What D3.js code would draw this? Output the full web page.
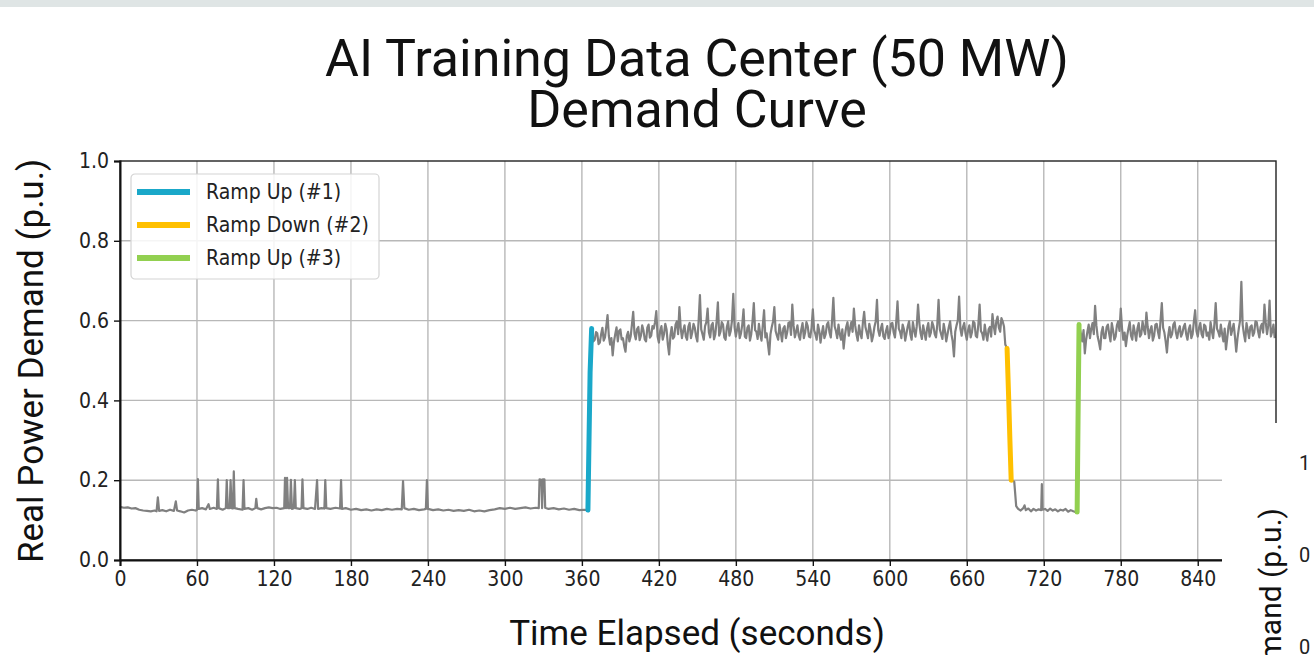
<!DOCTYPE html>
<html>
<head>
<meta charset="utf-8">
<script src="https://cdn.jsdelivr.net/npm/d3@7"></script>
<style>
  body { margin: 0; background: #fff; }
  svg { display: block; }
  .tick text { font-family: "Liberation Sans Narrow", "DejaVu Sans Condensed", Roboto, sans-serif; }
</style>
</head>
<body>
<svg id="chart" width="1314" height="655"></svg>
<script>
// tick values
const xTicks = [0, 60, 120, 180, 240, 300, 360, 420, 480, 540, 600, 660, 720, 780, 840];
const yTicks = [0, 0.2, 0.4, 0.6, 0.8, 1.0];

const legendLabels = ["Ramp Up (#1)", "Ramp Down (#2)", "Ramp Up (#3)"];
const rampColors = ["#1aa8c9", "#ffc000", "#92d050"];

// idle period before the first ramp, [seconds, p.u.]
const idleA = [
  [0,0.133],[3,0.131],[6,0.132],[9,0.129],[12,0.13],[15,0.126],[18,0.124],[21,0.123],[24,0.122],[27,0.124],
  [28.5,0.122],[29.5,0.157],[30.5,0.123],[33,0.125],[36,0.122],[39,0.126],[42,0.123],[43.5,0.147],[44.5,0.124],
  [47,0.122],[50,0.119],[53,0.124],[56,0.126],[59,0.124],[60,0.126],[60.7,0.203],[61.4,0.128],[64,0.13],
  [67,0.127],[69,0.14],[70,0.128],[73,0.131],[75.5,0.128],[76.3,0.202],[77,0.13],[80,0.126],[82.5,0.13],
  [83.2,0.2],[84,0.13],[85.5,0.13],[86.2,0.2],[87,0.13],[88,0.129],[88.7,0.222],[89.4,0.13],[92,0.128],
  [95.5,0.126],[96.3,0.2],[97,0.128],[100,0.13],[103,0.126],[105.5,0.13],[106.2,0.153],[107,0.13],[110,0.127],
  [113,0.13],[116,0.132],[119,0.13],[122,0.131],[125,0.128],[128,0.13],[128.6,0.206],[129.4,0.13],[130.2,0.206],
  [131,0.13],[132.5,0.13],[133.2,0.201],[134,0.128],[135.5,0.13],[136.3,0.2],[137,0.13],[140,0.128],[141.5,0.13],
  [142.2,0.202],[143,0.13],[146,0.128],[149,0.131],[152,0.128],[153.6,0.2],[154.4,0.128],[157,0.13],[159.3,0.129],
  [160,0.2],[160.8,0.13],[164,0.128],[168,0.131],[171.5,0.129],[172.3,0.2],[173,0.128],[176,0.13],[180,0.126],
  [184,0.128],[188,0.125],[192,0.127],[196,0.124],[200,0.127],[204,0.125],[208,0.128],[212,0.126],[216,0.128],
  [219.6,0.127],[220.6,0.198],[221.6,0.13],[225,0.126],[229,0.128],[233,0.125],[237,0.127],[238.4,0.128],
  [239.2,0.2],[240,0.128],[244,0.125],[248,0.127],[252,0.124],[256,0.126],[260,0.123],[264,0.125],[268,0.123],
  [272,0.126],[276,0.122],[280,0.124],[284,0.122],[288,0.125],[292,0.127],[296,0.13],[300,0.128],[304,0.131],
  [308,0.128],[312,0.13],[316,0.132],[320,0.129],[324,0.131],[326.4,0.13],[327,0.202],[328.5,0.201],[329,0.13],
  [329.6,0.202],[330.8,0.202],[331.4,0.131],[334,0.128],[338,0.13],[342,0.127],[346,0.129],[350,0.126],
  [354,0.128],[358,0.125],[362,0.126],[364.7,0.125]
];

const rampUp1 = [[364.7,0.125],[365.6,0.31],[366.4,0.47],[367.6,0.58]];

// training load, one value per second starting at 368 s
const trainA = [
  0.575,0.548,0.552,0.571,0.568,0.541,0.545,0.566,0.582,0.550,0.558,0.585,0.614,0.562,0.540,0.556,0.513,0.547,0.566,0.583,
  0.548,0.574,0.578,0.553,0.556,0.536,0.522,0.561,0.572,0.548,0.560,0.590,0.622,0.567,0.553,0.579,0.584,0.551,0.562,0.588,
  0.575,0.553,0.548,0.582,0.590,0.557,0.562,0.586,0.580,0.596,0.624,0.560,0.545,0.574,0.586,0.552,0.566,0.592,0.578,0.540,
  0.515,0.562,0.584,0.555,0.560,0.590,0.598,0.566,0.634,0.582,0.556,0.575,0.588,0.560,0.552,0.585,0.594,0.556,0.570,0.592,
  0.582,0.560,0.548,0.600,0.664,0.578,0.566,0.552,0.586,0.596,0.630,0.570,0.558,0.588,0.594,0.553,0.566,0.598,0.646,0.562,
  0.572,0.596,0.590,0.558,0.552,0.584,0.598,0.562,0.574,0.600,0.667,0.584,0.560,0.578,0.594,0.556,0.568,0.590,0.628,0.560,
  0.556,0.582,0.588,0.550,0.566,0.598,0.644,0.576,0.572,0.554,0.592,0.566,0.550,0.589,0.626,0.558,0.568,0.542,0.515,0.566,
  0.584,0.598,0.634,0.574,0.562,0.552,0.590,0.570,0.548,0.580,0.586,0.556,0.570,0.594,0.596,0.564,0.640,0.588,0.558,0.572,
  0.588,0.562,0.552,0.578,0.594,0.556,0.570,0.596,0.586,0.560,0.558,0.582,0.628,0.576,0.566,0.552,0.590,0.574,0.545,0.568,
  0.586,0.556,0.566,0.590,0.596,0.570,0.558,0.600,0.657,0.586,0.574,0.556,0.590,0.566,0.552,0.578,0.530,0.562,0.584,0.596,
  0.562,0.580,0.596,0.572,0.630,0.588,0.566,0.550,0.588,0.568,0.556,0.594,0.622,0.584,0.570,0.556,0.592,0.576,0.548,0.562,
  0.584,0.598,0.652,0.576,0.562,0.580,0.592,0.560,0.554,0.574,0.586,0.556,0.568,0.592,0.594,0.570,0.558,0.596,0.648,0.580,
  0.572,0.556,0.590,0.578,0.550,0.568,0.586,0.598,0.566,0.552,0.596,0.576,0.560,0.586,0.640,0.594,0.568,0.554,0.588,0.570,
  0.552,0.580,0.594,0.560,0.570,0.596,0.586,0.566,0.558,0.590,0.652,0.578,0.566,0.554,0.592,0.574,0.548,0.566,0.584,0.598,
  0.566,0.548,0.510,0.572,0.588,0.600,0.660,0.580,0.562,0.584,0.594,0.568,0.552,0.576,0.588,0.558,0.570,0.598,0.594,0.562,
  0.558,0.590,0.640,0.574,0.568,0.552,0.590,0.566,0.550,0.578,0.584,0.560,0.616,0.586,0.566,0.598,0.610,0.582,0.572,0.606,
  0.598,0.585,0.540
];
const trainAStart = 368;

const rampDown2 = [[691.4,0.53],[692.6,0.41],[693.6,0.30],[694.6,0.20]];

const idleB = [
  [694.6,0.2],[697,0.196],[698.5,0.135],[700,0.128],[702,0.124],[704,0.13],[705,0.137],[706,0.125],[708,0.129],
  [710,0.122],[712,0.128],[714,0.124],[716,0.127],[718,0.125],[718.5,0.19],[719,0.126],[721,0.128],[723,0.123],
  [725,0.129],[727,0.124],[729,0.127],[731,0.122],[733,0.126],[735,0.124],[737,0.128],[739,0.121],[741,0.125],
  [743,0.122],[745,0.12],[746,0.12]
];

const rampUp3 = [[746,0.12],[746.7,0.35],[747.5,0.59]];

// training load, one value per second starting at 748 s
const trainB = [
  0.582,0.566,0.548,0.576,0.518,0.552,0.572,0.590,0.556,0.580,0.594,0.566,0.637,0.588,0.560,0.546,0.528,0.570,0.584,0.556,
  0.556,0.584,0.590,0.566,0.548,0.594,0.576,0.552,0.560,0.588,0.598,0.574,0.630,0.580,0.552,0.570,0.536,0.562,0.580,0.596,
  0.562,0.552,0.588,0.570,0.550,0.580,0.594,0.560,0.566,0.598,0.578,0.566,0.620,0.584,0.556,0.576,0.586,0.550,0.562,0.590,
  0.592,0.572,0.556,0.600,0.644,0.582,0.570,0.548,0.520,0.562,0.584,0.558,0.566,0.590,0.596,0.570,0.556,0.576,0.586,0.560,
  0.568,0.584,0.592,0.566,0.552,0.578,0.588,0.556,0.566,0.598,0.626,0.574,0.560,0.582,0.594,0.566,0.558,0.590,0.586,0.562,
  0.570,0.552,0.596,0.574,0.556,0.592,0.644,0.580,0.572,0.560,0.590,0.566,0.548,0.580,0.528,0.556,0.586,0.598,0.564,0.578,
  0.592,0.560,0.522,0.556,0.580,0.600,0.697,0.590,0.566,0.548,0.594,0.576,0.556,0.584,0.588,0.562,0.570,0.598,0.596,0.574,
  0.558,0.584,0.592,0.570,0.640,0.596,0.566,0.588,0.650,0.560,0.572,0.590,0.556
];
const trainBStart = 748;

const svg = d3.select("#chart");
const W = 1314, H = 655;
const plot = { left: 120, right: 1276, top: 161, bottom: 560 };

const x = d3.scaleLinear().domain([0, 901]).range([plot.left, plot.right]);
const y = d3.scaleLinear().domain([0, 1]).range([plot.bottom, plot.top]);

// top strip of the screenshot
svg.append("rect").attr("x", 0).attr("y", 0).attr("width", W).attr("height", 7).attr("fill", "#dfe5e5");

// title
const title = svg.append("text")
    .attr("text-anchor", "middle")
    .style("font-family", "Roboto, sans-serif")
    .style("font-size", "52px")
    .attr("fill", "#111");
title.append("tspan").attr("x", 697).attr("y", 76).text("AI Training Data Center (50 MW)");
title.append("tspan").attr("x", 697).attr("y", 127).text("Demand Curve");

// grid
const grid = svg.append("g").attr("stroke", "#b8b8b8").attr("stroke-width", 1.4);
grid.selectAll("line.gx").data(xTicks.filter(d => d > 0)).enter().append("line")
    .attr("x1", d => x(d)).attr("x2", d => x(d))
    .attr("y1", plot.top).attr("y2", plot.bottom);
grid.selectAll("line.gy").data(yTicks.filter(d => d > 0 && d < 1)).enter().append("line")
    .attr("x1", plot.left).attr("x2", plot.right)
    .attr("y1", d => y(d)).attr("y2", d => y(d));

// gray demand trace
const series = [].concat(
    idleA,
    rampUp1,
    trainA.map((v, i) => [trainAStart + i, v]),
    rampDown2,
    idleB,
    rampUp3,
    trainB.map((v, i) => [trainBStart + i, v])
);

const line = d3.line().x(d => x(d[0])).y(d => y(d[1]));

svg.append("path")
    .datum(series)
    .attr("d", line)
    .attr("fill", "none")
    .attr("stroke", "#808080")
    .attr("stroke-width", 2.2)
    .attr("stroke-linejoin", "round");

// ramps
[rampUp1, rampDown2, rampUp3].forEach((r, i) => {
    svg.append("path")
        .datum(r)
        .attr("d", line)
        .attr("fill", "none")
        .attr("stroke", rampColors[i])
        .attr("stroke-width", 5)
        .attr("stroke-linecap", "round")
        .attr("stroke-linejoin", "round");
});

// frame
svg.append("rect")
    .attr("x", plot.left).attr("y", plot.top)
    .attr("width", plot.right - plot.left).attr("height", plot.bottom - plot.top)
    .attr("fill", "none").attr("stroke", "#222").attr("stroke-width", 1.4);

// axes
const xAxis = svg.append("g")
    .attr("transform", `translate(0,${plot.bottom})`)
    .call(d3.axisBottom(x).tickValues(xTicks).tickSize(6).tickPadding(5).tickFormat(d3.format("d")));
const yAxis = svg.append("g")
    .attr("transform", `translate(${plot.left},0)`)
    .call(d3.axisLeft(y).tickValues(yTicks).tickSize(6).tickPadding(5).tickFormat(d3.format(".1f")));
[xAxis, yAxis].forEach(a => {
    a.select(".domain").attr("stroke", "#111").attr("stroke-width", 2);
    a.selectAll(".tick line").attr("stroke", "#111").attr("stroke-width", 1.4);
    a.selectAll(".tick text").attr("fill", "#222").style("font-size", "21px");
});

// axis titles
svg.append("text")
    .attr("x", 697).attr("y", 645)
    .attr("text-anchor", "middle")
    .style("font-family", "Roboto, sans-serif").style("font-size", "35px")
    .attr("fill", "#111")
    .text("Time Elapsed (seconds)");
svg.append("text")
    .attr("transform", "translate(43,361) rotate(-90)")
    .attr("text-anchor", "middle")
    .style("font-family", "Roboto, sans-serif").style("font-size", "35px")
    .attr("fill", "#111")
    .text("Real Power Demand (p.u.)");

// legend
const legend = svg.append("g").attr("transform", "translate(131,174)");
legend.append("rect")
    .attr("width", 248).attr("height", 105).attr("rx", 4)
    .attr("fill", "rgba(255,255,255,0.85)").attr("stroke", "#d4d4d4").attr("stroke-width", 1.2);
const legendItems = legend.selectAll("g.item").data(legendLabels).enter().append("g")
    .attr("transform", (d, i) => `translate(0,${18 + i * 33})`);
legendItems.append("line")
    .attr("x1", 6).attr("x2", 59)
    .attr("stroke", (d, i) => rampColors[i]).attr("stroke-width", 6);
legendItems.append("text")
    .attr("x", 75).attr("dy", "0.35em")
    .style("font-family", "\"Liberation Sans Narrow\", \"DejaVu Sans Condensed\", Roboto, sans-serif")
    .style("font-size", "21px").attr("fill", "#222")
    .text(d => d);

// edge of another window overlapping the bottom-right corner
const overlap = svg.append("g");
overlap.append("rect").attr("x", 1222).attr("y", 423).attr("width", 92).attr("height", 232).attr("fill", "#fff");
overlap.append("text")
    .attr("transform", "translate(1281,508) rotate(-90)")
    .attr("text-anchor", "end")
    .style("font-family", "Roboto, sans-serif").style("font-size", "30px")
    .attr("fill", "#111")
    .text("Real Power Demand (p.u.)");
overlap.selectAll("text.tk").data(["1", "0", "0"]).enter().append("text")
    .attr("x", 1299).attr("y", (d, i) => 470 + i * 92)
    .style("font-family", "\"Liberation Sans Narrow\", Roboto, sans-serif").style("font-size", "20px")
    .attr("fill", "#222")
    .text(d => d);
</script>
</body>
</html>
